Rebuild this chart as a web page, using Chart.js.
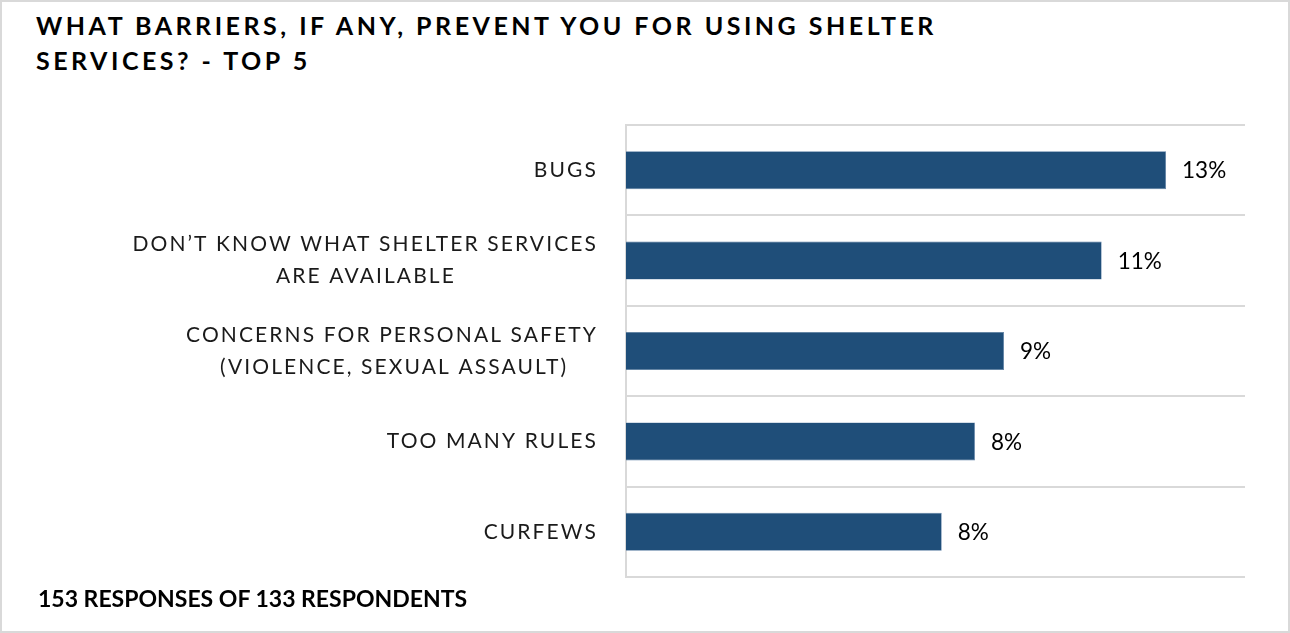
<!DOCTYPE html>
<html>
<head>
<meta charset="utf-8">
<script src="https://cdn.jsdelivr.net/npm/chart.js@4/dist/chart.umd.min.js"></script>
<style>
    body { margin: 0; background: #fff; }
    .frame {
        position: absolute; left: 0; top: 0;
        width: 1290px; height: 633px;
        box-sizing: border-box;
        border: 2px solid #d9d9d9;
    }
    .title {
        position: absolute; left: 36px; top: 8px;
        font-family: Lato, sans-serif; font-weight: bold;
        font-size: 25px; line-height: 35px; letter-spacing: 3.5px;
        color: #000;
    }
    .footer {
        position: absolute; left: 38px; top: 587px;
        font-family: Lato, sans-serif; font-weight: bold;
        font-size: 23px; line-height: 23px;
        color: #000;
    }
    #barChart { position: absolute; left: 0; top: 0; }
</style>
</head>
<body>
<div class="frame"></div>
<div class="title">WHAT BARRIERS, IF ANY, PREVENT YOU FOR USING SHELTER<br>SERVICES? - TOP 5</div>
<canvas id="barChart" width="1290" height="633"></canvas>
<div class="footer">153 RESPONSES OF 133 RESPONDENTS</div>

<script>
// chart data
const categories = [
    ['BUGS'],
    ['DON’T KNOW WHAT SHELTER SERVICES', 'ARE AVAILABLE'],
    ['CONCERNS FOR PERSONAL SAFETY', '(VIOLENCE, SEXUAL ASSAULT)'],
    ['TOO MANY RULES'],
    ['CURFEWS']
];
const shares = [0.13, 0.1145, 0.091, 0.084, 0.076];
const axisMax = 0.149;

const labelFont = '21px Lato';
const labelSpacing = '2.1px';

// helper canvas to measure spaced text (for centering the wrapped lines)
const measureCtx = document.createElement('canvas').getContext('2d');
measureCtx.font = labelFont;
measureCtx.letterSpacing = labelSpacing;

function centerLines(lines) {
    if (lines.length < 2) return lines;
    const first = measureCtx.measureText(lines[0]).width;
    const spaceW = measureCtx.measureText(' ').width;
    return lines.map((line, i) => {
        if (i === 0) return line;
        const w = measureCtx.measureText(line).width;
        const n = Math.max(0, Math.round((first - w) / 2 / spaceW));
        return line + ' '.repeat(n);
    });
}

// letter spacing for the category labels only
const spacingPlugin = {
    id: 'spacing',
    beforeDraw(chart) {
        chart.ctx.letterSpacing = labelSpacing;
    },
    beforeDatasetsDraw(chart) {
        chart.ctx.letterSpacing = '0px';
    }
};

// percentage labels at the end of each bar
const valueLabels = {
    id: 'valueLabels',
    afterDatasetsDraw(chart) {
        const ctx = chart.ctx;
        const meta = chart.getDatasetMeta(0);
        ctx.save();
        ctx.letterSpacing = '0px';
        ctx.font = '22.5px Lato';
        ctx.fillStyle = '#000';
        ctx.textAlign = 'left';
        ctx.textBaseline = 'middle';
        meta.data.forEach((bar, i) => {
            const txt = Math.round(shares[i] * 100) + '%';
            ctx.fillText(txt, bar.x + 16, bar.y + 1);
        });
        ctx.restore();
    }
};

const ctx = document.getElementById('barChart').getContext('2d');
const barChart = new Chart(ctx, {
    type: 'bar',
    data: {
        labels: categories,
        datasets: [{
            data: shares,
            backgroundColor: '#1f4e79',
            borderColor: '#5a7ea5',
            borderWidth: 0.6,
            categoryPercentage: 1,
            barPercentage: 0.42
        }]
    },
    options: {
        indexAxis: 'y',
        responsive: false,
        animation: false,
        layout: { padding: { left: 0, right: 45, top: 125, bottom: 56 } },
        plugins: {
            legend: { display: false },
            tooltip: { enabled: false }
        },
        scales: {
            x: {
                display: false,
                min: 0,
                max: axisMax
            },
            y: {
                afterFit(scale) { scale.width = 626; },
                grid: {
                    color: '#d9d9d9',
                    lineWidth: 2,
                    drawTicks: false
                },
                border: { color: '#d9d9d9', width: 2 },
                ticks: {
                    padding: 28,
                    color: '#1a1a1a',
                    font: { family: 'Lato', size: 21, lineHeight: 1.52 },
                    callback: function (value, index) {
                        return centerLines(categories[index]);
                    }
                }
            }
        }
    },
    plugins: [spacingPlugin, valueLabels]
});
</script>
</body>
</html>
